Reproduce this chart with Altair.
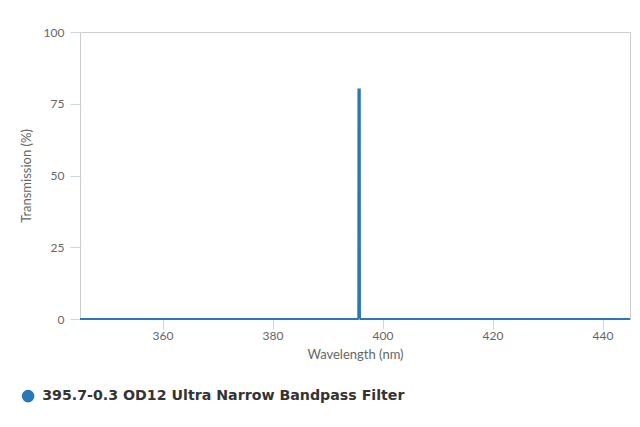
import altair as alt
import pandas as pd

series_name = "395.7-0.3 OD12 Ultra Narrow Bandpass Filter"
wavelength = [345, 395.5, 395.60, 395.63, 395.87, 395.9, 396.0, 445]
transmission = [0, 0, 0.5, 80, 80, 0.5, 0, 0]
x_ticks = [360, 380, 400, 420, 440]
y_ticks = [0, 25, 50, 75, 100]

df = pd.DataFrame({"wl": wavelength, "t": transmission, "s": series_name})

line_color = "#2878b8"
font = "Lato"

chart = alt.Chart(df).mark_line(strokeWidth=2, interpolate="linear").encode(
    x=alt.X("wl:Q", scale=alt.Scale(domain=[345, 445], nice=False, zero=False),
            axis=alt.Axis(title="Wavelength (nm)", values=x_ticks, grid=False, domain=False,
                          tickColor="#ccd6eb", tickSize=10, labelPadding=1,
                          labelColor="#666666", labelFontSize=12, labelFont=font,
                          titleColor="#666666", titleFontSize=13, titleFont=font,
                          titleFontWeight="normal", titlePadding=7)),
    y=alt.Y("t:Q", scale=alt.Scale(domain=[0, 100], nice=False),
            axis=alt.Axis(title="Transmission (%)", values=y_ticks, grid=False, domain=False,
                          tickColor="#ccd6eb", tickSize=10, labelPadding=6,
                          labelColor="#666666", labelFontSize=12, labelFont=font,
                          titleColor="#666666", titleFontSize=13, titleFont=font,
                          titleFontWeight="normal", titlePadding=10)),
    color=alt.Color("s:N", scale=alt.Scale(range=[line_color]),
                    legend=alt.Legend(title=None, orient="none", legendX=-59, legendY=357,
                                      symbolType="circle", symbolSize=160,
                                      symbolFillColor=line_color, symbolStrokeWidth=0,
                                      labelFont="DejaVu Sans", labelFontSize=14.2,
                                      labelFontWeight="bold", labelColor="#333333",
                                      labelLimit=600, labelOffset=7, padding=0)),
).properties(
    width=550, height=287,
    autosize=alt.AutoSizeParams(type="none"),
    padding={"left": 72, "top": 24, "right": 2, "bottom": 90},
).configure_view(stroke="#cccccc", strokeWidth=1)

chart.save("out.html", embed_options={"renderer": "svg", "actions": False})
